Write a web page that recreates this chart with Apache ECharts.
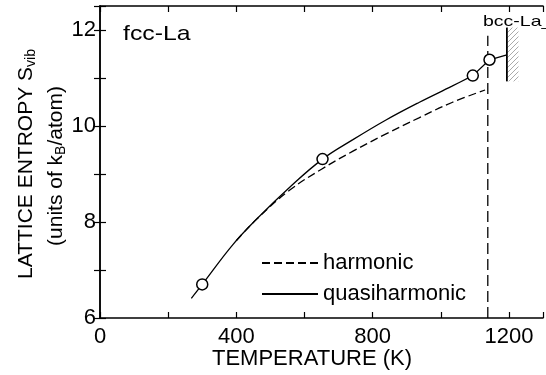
<!DOCTYPE html>
<html>
<head>
<meta charset="utf-8">
<script src="https://cdn.jsdelivr.net/npm/echarts@6/dist/echarts.min.js"></script>
<style>
html,body{margin:0;padding:0;background:#fff;}
#chart{width:546px;height:375px;}
</style>
</head>
<body>
<div id="chart"></div>
<script>
// Data (T in K, S in kB/atom)
var quasiharmonicCurve = [[268,6.41],[300,6.70],[390,7.53],[468,8.12],[556,8.72],[653,9.31],[741,9.71],[838,10.12],[936,10.49],[1033,10.83],[1094,11.05]];
var quasiharmonicHigh = [[1094,11.05],[1143,11.38],[1194,11.48]];
var harmonicCurve = [[400,7.61],[460,8.06],[556,8.66],[650,9.10],[741,9.47],[838,9.83],[936,10.17],[1033,10.49],[1130,10.75]];
var calcPoints = [[300,6.70],[653,9.31],[1094,11.05],[1143,11.38]];
var fccBccLine = [[1138,6],[1138,11.88]];
var bccMeltLine = [[1194,10.93],[1194,12.05]];
var bccMeltHatch = [[1194,10.93],[1228,12.05]];
var xTickLabels = [0,400,800,1200];
var yTickLabels = [6,8,10,12];

var FONT = 'Liberation Sans';

// hatch pattern
var pc = document.createElement('canvas');
pc.width = 5; pc.height = 5;
var pctx = pc.getContext('2d');
pctx.fillStyle = '#fff'; pctx.fillRect(0,0,5,5);
pctx.strokeStyle = '#aaa'; pctx.lineWidth = 1;
pctx.beginPath(); pctx.moveTo(0,5); pctx.lineTo(5,0); pctx.stroke();

var chart = echarts.init(document.getElementById('chart'), null, {renderer:'canvas'});

var axisCommon = {
  type:'value',
  axisLine:{show:true, lineStyle:{color:'#000', width:1.5}},
  axisTick:{show:true, inside:true, length:6, lineStyle:{color:'#000', width:1.2}},
  splitLine:{show:false}
};

chart.setOption({
  animation:false,
  backgroundColor:'#fff',
  grid:{left:100, right:3, top:6, bottom:57, containLabel:false},
  xAxis:[
    Object.assign({}, axisCommon, {
      min:0, max:1300, interval:200, position:'bottom',
      axisLabel:{color:'#000', fontFamily:FONT, fontSize:22, margin:8,
        formatter:function(v){ return xTickLabels.indexOf(v) >= 0 ? String(v) : ''; }}
    }),
    Object.assign({}, axisCommon, {
      min:0, max:1300, interval:200, position:'top',
      axisLabel:{show:false}
    })
  ],
  yAxis:[
    Object.assign({}, axisCommon, {
      min:6, max:12.5, interval:1, position:'left',
      axisLabel:{color:'#000', fontFamily:FONT, fontSize:22, margin:4,
        formatter:function(v){ return yTickLabels.indexOf(v) >= 0 ? String(v) : ''; }}
    }),
    Object.assign({}, axisCommon, {
      min:6, max:12.5, interval:1, position:'right',
      axisLabel:{show:false}
    })
  ],
  legend:{
    data:['harmonic','quasiharmonic'],
    orient:'vertical', left:256, top:247,
    itemWidth:56, itemHeight:14, itemGap:9,
    itemStyle:{opacity:0},
    textStyle:{color:'#000', fontFamily:FONT, fontSize:22},
    selectedMode:false
  },
  series:[
    {
      name:'harmonic', type:'line', data:harmonicCurve, smooth:0.4,
      symbol:'none', itemStyle:{color:'#000'}, lineStyle:{color:'#000', width:1.3, type:[8,4]}, z:2
    },
    {
      name:'quasiharmonic', type:'line', data:quasiharmonicCurve, smooth:0.4,
      symbol:'none', itemStyle:{color:'#000'}, lineStyle:{color:'#000', width:1.3, type:'solid'}, z:3
    },
    {
      name:'qh-high', type:'line', data:quasiharmonicHigh, smooth:false,
      symbol:'none', lineStyle:{color:'#000', width:1.3}, z:3
    },
    {
      name:'points', type:'scatter', data:calcPoints, symbol:'circle', symbolSize:11,
      itemStyle:{color:'#fff', borderColor:'#000', borderWidth:1.5, opacity:1}, z:5
    },
    {
      name:'fcc-bcc', type:'line', data:fccBccLine, symbol:'none',
      lineStyle:{color:'#000', width:1.3, type:[11,5]}, z:2
    },
    {
      name:'bcc-melt', type:'line', data:bccMeltLine, symbol:'none',
      lineStyle:{color:'#000', width:1.8}, z:4,
      markArea:{
        silent:true,
        itemStyle:{color:{image:pc, repeat:'repeat'}},
        data:[[{coord:bccMeltHatch[0]},{coord:bccMeltHatch[1]}]]
      }
    }
  ],
  graphic:[
    {type:'text', x:123, y:34, scaleX:1.18, style:{text:'fcc-La', fill:'#000', font:'21px "Liberation Sans"', verticalAlign:'middle'}},
    {type:'text', x:483, y:22, scaleX:1.3, style:{text:'bcc-La_', fill:'#000', font:'15px "Liberation Sans"', verticalAlign:'middle'}},
    {type:'text', x:312, y:359, style:{text:'TEMPERATURE (K)', fill:'#000', font:'22px "Liberation Sans"', align:'center', verticalAlign:'middle'}},
    {type:'text', x:26, y:164, rotation:Math.PI/2,
      style:{text:'{a|LATTICE ENTROPY S}{s|vib}', align:'center', verticalAlign:'middle',
        rich:{a:{fill:'#000', fontFamily:FONT, fontSize:21, lineHeight:24},
              s:{fill:'#000', fontFamily:FONT, fontSize:14, lineHeight:24, verticalAlign:'bottom', padding:[4,0,0,0]}}}},
    {type:'text', x:56, y:166, rotation:Math.PI/2,
      style:{text:'{a|(units of k}{s|B}{a|/atom)}', align:'center', verticalAlign:'middle',
        rich:{a:{fill:'#000', fontFamily:FONT, fontSize:21, lineHeight:24},
              s:{fill:'#000', fontFamily:FONT, fontSize:14, lineHeight:24, verticalAlign:'bottom', padding:[4,0,0,0]}}}}
  ]
});
</script>
</body>
</html>
